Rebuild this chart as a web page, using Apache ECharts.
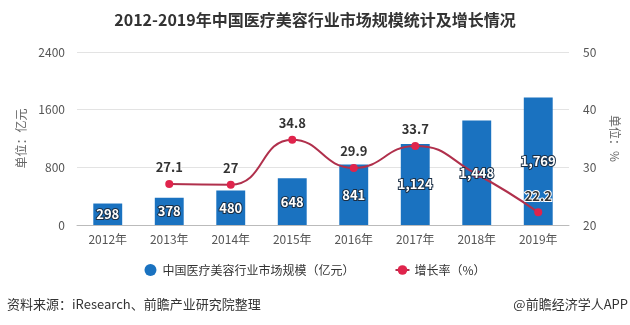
<!DOCTYPE html>
<html>
<head>
<meta charset="utf-8">
<script src="https://cdn.jsdelivr.net/npm/echarts@6/dist/echarts.min.js"></script>
<style>
html,body{margin:0;padding:0;background:#fff;}
#chart{width:630px;height:325px;}
</style>
</head>
<body>
<div id="chart"></div>
<script>
const titleText = '2012-2019年中国医疗美容行业市场规模统计及增长情况';
const categories = ['2012年','2013年','2014年','2015年','2016年','2017年','2018年','2019年'];
const marketSize = [298, 378, 480, 648, 841, 1124, 1448, 1769];
const growthRate = [null, 27.1, 27, 34.8, 29.9, 33.7, 28.8, 22.2];
const hiddenGrowthLabels = ['2018年'];
const barName = '中国医疗美容行业市场规模（亿元）';
const lineName = '增长率（%）';
const leftAxisName = '单位：亿元';
const rightAxisName = '单位：%';
const sourceText = '资料来源：iResearch、前瞻产业研究院整理';
const brandText = '@前瞻经济学人APP';

const FONT = '"Microsoft YaHei","Noto Sans CJK SC",sans-serif';
const chart = echarts.init(document.getElementById('chart'));
const fmt = v => v.toLocaleString('en-US');

chart.setOption({
  backgroundColor: '#fff',
  animation: false,
  textStyle: { fontFamily: FONT },
  title: {
    text: titleText, left: 'center', top: 7,
    textStyle: { fontSize: 16, fontWeight: 'bold', color: '#333', fontFamily: FONT }
  },
  legend: {
    bottom: 44, left: 'center', itemGap: 40, itemWidth: 14, itemHeight: 12,
    textStyle: { fontSize: 12, color: '#333', fontFamily: FONT },
    data: [{ name: barName, icon: 'circle' }, { name: lineName }]
  },
  grid: { left: 77, right: 61, top: 52, bottom: 100 },
  xAxis: {
    type: 'category', data: categories,
    axisLine: { lineStyle: { color: '#bbb' } },
    axisTick: { alignWithLabel: true, lineStyle: { color: '#bbb' } },
    axisLabel: { color: '#555', fontSize: 12, margin: 8 }
  },
  yAxis: [
    {
      type: 'value', min: 0, max: 2400, interval: 800,
      name: leftAxisName, nameLocation: 'middle', nameGap: 50,
      nameTextStyle: { color: '#666', fontSize: 12 },
      axisLine: { show: false }, axisTick: { show: false },
      axisLabel: { color: '#555', fontSize: 12, margin: 12, formatter: v => String(v) },
      splitLine: { lineStyle: { color: '#e3e3e3' } }
    },
    {
      type: 'value', min: 20, max: 50, interval: 10,
      name: rightAxisName, nameLocation: 'middle', nameGap: 40, nameRotate: -90,
      nameTextStyle: { color: '#666', fontSize: 12 },
      axisLine: { show: false }, axisTick: { show: false },
      axisLabel: { color: '#555', fontSize: 12, margin: 14 },
      splitLine: { show: false }
    }
  ],
  series: [
    {
      name: barName, type: 'bar', data: marketSize, barWidth: '47%', z: 2,
      itemStyle: { color: '#1a72c0' }
    },
    {
      name: lineName, type: 'line', yAxisIndex: 1, smooth: true, z: 5,
      data: growthRate.map((v, i) => hiddenGrowthLabels.includes(categories[i]) ? { value: v, label: { show: false } } : v),
      symbol: 'circle', symbolSize: 8, showSymbol: true,
      lineStyle: { color: '#b0304c', width: 2 },
      itemStyle: { color: '#e0244c' },
      label: {
        show: true, position: 'top', color: '#333', fontSize: 13, fontWeight: 'bold',
        textBorderColor: '#fff', textBorderWidth: 2, distance: 6
      }
    },
    {
      name: barName + '-label', type: 'bar', data: marketSize, barWidth: '47%', barGap: '-100%', z: 10,
      silent: true, itemStyle: { color: 'rgba(0,0,0,0)' },
      label: {
        show: true, position: 'inside', color: '#fff', fontSize: 13, fontWeight: 'bold',
        textBorderColor: '#1b2f45', textBorderWidth: 2,
        formatter: p => fmt(p.value)
      }
    }
  ],
  graphic: [
    { type: 'text', left: 7, top: 298, style: { text: sourceText, fill: '#333', font: '13px ' + FONT } },
    { type: 'text', right: 2, top: 298, style: { text: brandText, fill: '#333', font: '13px ' + FONT } }
  ]
});
</script>
</body>
</html>
